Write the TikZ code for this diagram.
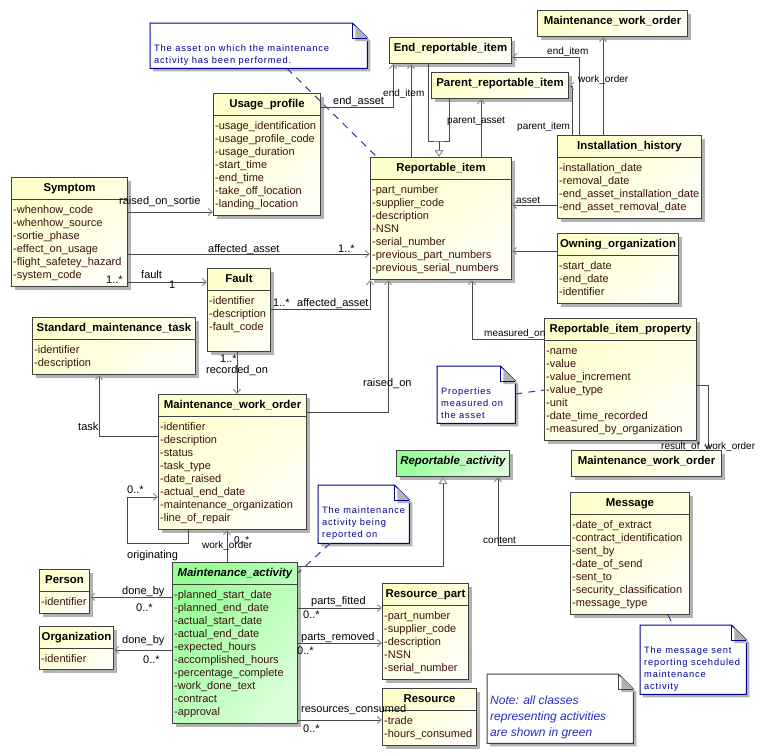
\documentclass[tikz,border=0pt]{standalone}
\usepackage{fontspec}
\setmainfont{Liberation Sans}
\newfontfamily\notefont[LetterSpace=9]{Liberation Sans}
\usetikzlibrary{arrows.meta}
\usetikzlibrary{shadows}
\definecolor{umlyellow}{RGB}{255,255,204}
\definecolor{umlgreen}{RGB}{150,255,150}
\definecolor{boxgray}{RGB}{64,64,64}
\definecolor{linegray}{RGB}{72,72,72}
\definecolor{tipgray}{RGB}{140,140,140}
\definecolor{attrbrown}{RGB}{60,16,16}
\definecolor{noteblue}{RGB}{0,0,150}
\definecolor{memoblue}{RGB}{40,40,200}
\tikzset{
  classbox/.style={draw=boxgray,line width=1pt,anchor=north west,inner sep=0pt,
    drop shadow={shadow xshift=3pt,shadow yshift=-3pt,fill=black!30,opacity=1}},
  yellowbox/.style={top color=umlyellow,bottom color=umlyellow!20,shading angle=40},
  greenbox/.style={top color=umlgreen,bottom color=umlgreen!35,shading angle=50},
  classtitle/.style={anchor=base,inner sep=0pt,font=\fontsize{11.4}{13}\selectfont\bfseries},
  attr/.style={anchor=base west,inner sep=0pt,text=attrbrown,font=\fontsize{11}{13}\selectfont},
}
% class with attributes: [style]{name}{x,y}{width}{height}{title}{attributes}
\newcommand\umlclass[7][yellowbox]{%
  \node[classbox,#1,minimum width=#4pt,minimum height=#5pt] (#2) at (#3) {};
  \draw[draw=boxgray,line width=1pt] ([yshift=-22pt]#2.north west) -- ([yshift=-22pt]#2.north east);
  \node[classtitle] (#2-t) at ([yshift=-14pt]#2.north) {#6};
  \foreach \a [count=\i] in {#7}
    \node[attr] (#2-\i) at ([xshift=2pt,yshift={-23pt-13pt*\i}]#2.north west) {-\a};
}
% class shown by its name only
\newcommand\umlhead[5][yellowbox]{%
  \node[classbox,#1,minimum width=#4pt,minimum height=26pt] (#2) at (#3) {};
  \node[classtitle] (#2-t) at ([yshift=-14pt]#2.north) {#5};
}
% note with folded corner: {name}{x,y}{width}{height}{lines}
\newcommand\umlnote[5]{%
  \node[anchor=north west,inner sep=0pt,minimum width=#3pt,minimum height=#4pt] (#1) at (#2) {};
  \draw[note] (#1.north west) -- ([xshift=-15pt]#1.north east) -- ([yshift=-15pt]#1.north east)
    -- (#1.south east) -- (#1.south west) -- cycle;
  \draw[note,fill=none] ([xshift=-15pt]#1.north east) |- ([yshift=-15pt]#1.north east);
  \foreach \l [count=\i] in {#5}
    \node[notetext] (#1-\i) at ([xshift=4pt,yshift={-16pt-12pt*\i}]#1.north west) {\l};
}
\begin{document}
\begin{tikzpicture}[x=1pt,y=-1pt]
  \tikzset{
    note/.style={draw=noteblue,line width=1pt,fill=white,
      drop shadow={shadow xshift=3pt,shadow yshift=-3pt,fill=black!30,opacity=1}},
    notetext/.style={anchor=base west,inner sep=0pt,text=noteblue,font=\notefont\fontsize{9.3}{12}\selectfont},
    notelink/.style={draw=noteblue!80,line width=1pt,dash pattern=on 7pt off 6pt},
    assoc/.style={draw=linegray,line width=1pt,-{Straight Barb[length=4pt,width=7pt,color=tipgray]}},
    inherit/.style={draw=linegray,line width=1pt,-{Triangle[open,length=7pt,width=9pt,color=tipgray,fill=white]}},
    lbl/.style={anchor=base west,inner sep=0pt,font=\fontsize{11}{13}\selectfont},
    slbl/.style={anchor=base west,inner sep=0pt,font=\fontsize{10}{12}\selectfont},
  }
  \useasboundingbox (0,0) rectangle (766,755);

  % notes
  \umlnote{asset note}{150,23}{217}{45}{The asset on which the maintenance,activity has been performed.}
  \umlnote{property note}{437,366}{78}{57}{Properties,measured on,the asset}
  \umlnote{activity note}{318,485}{91}{58}{The maintenance,activity being,reported on}
  \umlnote{message note}{640,625}{106}{69}{The message sent,reporting scehduled,maintenance,activity}
  \node[anchor=north west,inner sep=0pt,minimum width=146pt,minimum height=69pt] (green note) at (487,674) {};
  \draw[note,draw=boxgray] (green note.north west) -- ([xshift=-15pt]green note.north east)
    -- ([yshift=-15pt]green note.north east) -- (green note.south east) -- (green note.south west) -- cycle;
  \draw[note,draw=boxgray,fill=none] ([xshift=-15pt]green note.north east) |- ([yshift=-15pt]green note.north east);
  \foreach \l [count=\i] in {Note: all classes,representing activities,are shown in green}
    \node[anchor=base west,inner sep=0pt,text=memoblue,font=\fontsize{12}{16}\selectfont\itshape]
      (green note-\i) at ([xshift=3pt,yshift={-14pt-16pt*\i}]green note.north west) {\l};

  % classes
  \umlclass{up}{213,93}{107}{122}{Usage\_profile}{usage\_identification,usage\_profile\_code,usage\_duration,start\_time,end\_time,take\_off\_location,landing\_location}
  \umlclass{sym}{11,177}{116}{109}{Symptom}{whenhow\_code,whenhow\_source,sortie\_phase,effect\_on\_usage,flight\_safetey\_hazard,system\_code}
  \umlhead{eri}{389,37}{122}{End\_reportable\_item}
  \umlhead{pri}{431,72}{137}{Parent\_reportable\_item}
  \umlhead{mwo top}{537,10}{150}{Maintenance\_work\_order}
  \umlclass{ih}{557,135}{144}{83}{Installation\_history}{installation\_date,removal\_date,end\_asset\_installation\_date,end\_asset\_removal\_date}
  \umlclass{ri}{370,157}{141}{122}{Reportable\_item}{part\_number,supplier\_code,description,NSN,serial\_number,previous\_part\_numbers,previous\_serial\_numbers}
  \umlclass{oo}{557,233}{121}{70}{Owning\_organization}{start\_date,end\_date,identifier}
  \umlclass{fault}{207,268}{63}{83}{Fault}{identifier,description,fault\_code}
  \umlclass{smt}{32,317}{163}{57}{Standard\_maintenance\_task}{identifier,description}
  \umlclass{mwo}{158,394}{148}{135}{Maintenance\_work\_order}{identifier,description,status,task\_type,date\_raised,actual\_end\_date,maintenance\_organization,line\_of\_repair}
  \umlclass{rip}{544,318}{152}{122}{Reportable\_item\_property}{name,value,value\_increment,value\_type,unit,date\_time\_recorded,measured\_by\_organization}
  \umlhead{mwo right}{571,450}{150}{Maintenance\_work\_order}
  \umlhead[greenbox]{ra}{396,450}{113}{\itshape Reportable\_activity}
  \umlclass{msg}{570,492}{119}{122}{Message}{date\_of\_extract,contract\_identification,sent\_by,date\_of\_send,sent\_to,security\_classification,message\_type}
  \umlclass[greenbox]{ma}{172,562}{125}{161}{\itshape Maintenance\_activity}{planned\_start\_date,planned\_end\_date,actual\_start\_date,actual\_end\_date,expected\_hours,accomplished\_hours,percentage\_complete,work\_done\_text,contract,approval}
  \umlclass{per}{39,569}{50}{44}{Person}{identifier}
  \umlclass{org}{39,626}{74}{43}{Organization}{identifier}
  \umlclass{rp}{382,583}{86}{96}{Resource\_part}{part\_number,supplier\_code,description,NSN,serial\_number}
  \umlclass{res}{382,688}{94}{57}{Resource}{trade,hours\_consumed}

  % note links
  \draw[notelink] (asset note.south -| 287,0) -- (ri.north -| 377,0);
  \draw[notelink] (property note.east |- 0,394) -- (rip.west |- 0,390);
  \draw[notelink] (activity note.south -| 330,0) -- (ma.east |- 0,573);
  \draw[notelink] (msg.south -| 668,0) -- (message note.north -| 673,0);

  % associations
  \draw[assoc] (sym.east |- 0,212) -- (up.west |- 0,212);
  \draw[assoc] (sym.east |- 0,254) -- (ri.west |- 0,254);
  \draw[assoc] (sym.east |- 0,282) -- (fault.west |- 0,282);
  \draw[assoc] (fault.east |- 0,309) -| (ri.south west);
  \draw[assoc] (fault.south -| 237,0) -- (mwo.north -| 237,0);
  \draw[assoc] (mwo.east |- 0,412) -| (ri.south -| 388,0);
  \draw[assoc] (mwo.west |- 0,436) -| (smt.south -| 99,0);
  \draw[assoc] (mwo.south -| 188,0) |- (127,543) |- (mwo.west |- 0,497);
  \draw[assoc] (ma.north -| 227,0) -- (mwo.south -| 227,0);
  \draw[inherit] (ma.east |- 0,566) -| (ra.south -| 443,0);
  \draw[assoc] (msg.west |- 0,545) -| (ra.south -| 498,0);
  \draw[assoc] (ma.west |- 0,597) -- (per.east |- 0,597);
  \draw[assoc] (ma.west |- 0,650) -- (org.east |- 0,650);
  \draw[assoc] (ma.east |- 0,608) -- (rp.west |- 0,608);
  \draw[assoc] (ma.east |- 0,643) -- (rp.west |- 0,643);
  \draw[assoc] (ma.east |- 0,720) -- (res.west |- 0,720);
  \draw[assoc] (up.east |- 0,107) -| (eri.south -| 393,0);
  \draw[assoc] (ri.north -| 411,0) -- (eri.south -| 411,0);
  \draw[assoc] (ri.north -| 481,0) -- (pri.south -| 481,0);
  \coordinate (join) at (439,141);
  \draw[draw=linegray,line width=1pt] (eri.south -| 428,0) |- (join) -| (pri.south -| 449,0);
  \draw[inherit] (join) -- (ri.north -| join);
  \draw[assoc] (ih.north -| 579,0) |- (eri.east |- 0,57);
  \draw[assoc] (ih.north -| 572,0) |- (pri.east |- 0,86);
  \draw[assoc] (ih.north -| 603,0) -- (mwo top.south -| 603,0);
  \draw[assoc] (ih.west |- 0,205) -- (ri.east |- 0,205);
  \draw[assoc] (oo.west |- 0,251) -- (ri.east |- 0,251);
  \draw[assoc] (rip.west |- 0,339) -| (ri.south -| 472,0);
  \draw[assoc] (rip.east |- 0,385) -| (mwo right.north -| 708,0);

  % role names and multiplicities
  \node[lbl] (l sortie) at (119,204) {raised\_on\_sortie};
  \node[lbl] (l affected) at (208,252) {affected\_asset};
  \node[lbl] (m affected) at (338,252) {1..*};
  \node[lbl] (l fault) at (141,278) {fault};
  \node[lbl] (m fault a) at (106,283) {1..*};
  \node[lbl] (m fault b) at (169,288) {1};
  \node[lbl] (m fault asset) at (273,306) {1..*};
  \node[lbl] (l fault asset) at (297,306) {affected\_asset};
  \node[lbl] (m recorded) at (220,362) {1..*};
  \node[lbl] (l recorded) at (206,373) {recorded\_on};
  \node[lbl] (l raised) at (363,386) {raised\_on};
  \node[lbl] (l task) at (78,430) {task};
  \node[lbl] (m orig) at (127,493) {0..*};
  \node[lbl] (l orig) at (127,558) {originating};
  \node[slbl] (l work) at (202,548) {work\_order};
  \node[slbl] (m work) at (234,543) {0..*};
  \node[lbl] (l person) at (122,594) {done\_by};
  \node[lbl] (m person) at (136,611) {0..*};
  \node[lbl] (l org) at (122,643) {done\_by};
  \node[lbl] (m org) at (143,663) {0..*};
  \node[lbl] (l fitted) at (311,604) {parts\_fitted};
  \node[lbl] (m fitted) at (303,618) {0..*};
  \node[lbl] (l removed) at (301,640) {parts\_removed};
  \node[lbl] (m removed) at (297,654) {0..*};
  \node[lbl] (l consumed) at (301,712) {resources\_consumed};
  \node[lbl] (m consumed) at (303,732) {0..*};
  \node[slbl] (l content) at (483,543) {content};
  \node[lbl] (l end asset) at (333,104) {end\_asset};
  \node[slbl] (l end item) at (383,96) {end\_item};
  \node[slbl] (l parent asset) at (447,123) {parent\_asset};
  \node[slbl] (l ih end) at (547,54) {end\_item};
  \node[slbl] (l ih work) at (578,82) {work\_order};
  \node[slbl] (l ih parent) at (517,129) {parent\_item};
  \node[slbl] (l ih asset) at (516,203) {asset};
  \node[slbl] (l measured) at (484,336) {measured\_on};
  \node[slbl] (l result) at (661,449) {result\_of\_work\_order};
\end{tikzpicture}
\end{document}
